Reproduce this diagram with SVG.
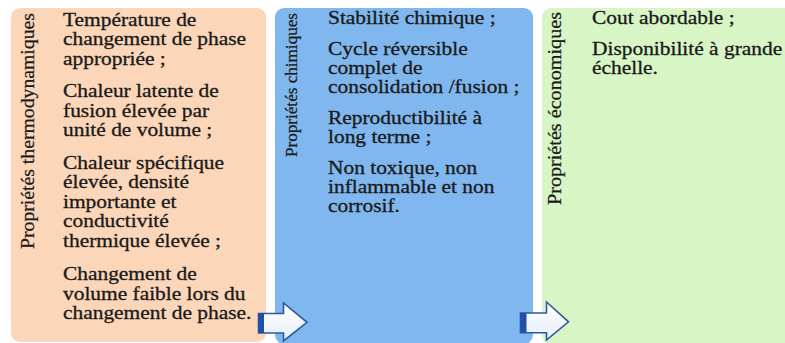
<svg xmlns="http://www.w3.org/2000/svg" width="785" height="343" viewBox="0 0 785 343">
<style>
  .txt { font-size: 18px; fill: #1a1a1a; stroke: #1a1a1a; stroke-width: 0.3; }
  .lab { fill: #1a1a1a; stroke: #1a1a1a; stroke-width: 0.25; }
  .arrow { fill: url(#agrad); stroke: #2d5a9e; stroke-width: 1.6; stroke-linejoin: miter; }
  .bar { fill: #1f4fa6; }
</style>
<defs>
  <linearGradient id="agrad" x1="0" y1="0" x2="0" y2="1">
    <stop offset="0" stop-color="#ffffff"/>
    <stop offset="1" stop-color="#e6eef8"/>
  </linearGradient>
</defs>
<rect x="0" y="0" width="785" height="343" fill="#ffffff"/>

<g font-family="Liberation Serif, DejaVu Serif, serif">
<g id="thermo">
  <rect x="11" y="8" width="255" height="334" rx="9" fill="#fbd6b9"/>
  <text class="lab" font-size="19" transform="translate(34 249) rotate(-90)" textLength="236" lengthAdjust="spacingAndGlyphs">Propriétés thermodynamiques</text>
  <g transform="translate(63 0) scale(1.19 1)">
    <text class="txt" x="0" y="25.7">Température de</text>
    <text class="txt" x="0" y="45.2">changement de phase</text>
    <text class="txt" x="0" y="64.7">appropriée ;</text>
    <text class="txt" x="0" y="97.2">Chaleur latente de</text>
    <text class="txt" x="0" y="116.7">fusion élevée par</text>
    <text class="txt" x="0" y="136.2">unité de volume ;</text>
    <text class="txt" x="0" y="168.7">Chaleur spécifique</text>
    <text class="txt" x="0" y="188.2">élevée, densité</text>
    <text class="txt" x="0" y="207.7">importante et</text>
    <text class="txt" x="0" y="227.2">conductivité</text>
    <text class="txt" x="0" y="246.7">thermique élevée ;</text>
    <text class="txt" x="0" y="280.2">Changement de</text>
    <text class="txt" x="0" y="299.7">volume faible lors du</text>
    <text class="txt" x="0" y="319.2">changement de phase.</text>
  </g>
</g>

<g id="chimiques">
  <rect x="275" y="8" width="258" height="336" rx="9" fill="#80b7ee"/>
  <text class="lab" font-size="17" transform="translate(297 157) rotate(-90)" textLength="144" lengthAdjust="spacingAndGlyphs">Propriétés chimiques</text>
  <g transform="translate(328 0) scale(1.19 1)">
    <text class="txt" x="0" y="24.5">Stabilité chimique ;</text>
    <text class="txt" x="0" y="55.5">Cycle réversible</text>
    <text class="txt" x="0" y="74.5">complet de</text>
    <text class="txt" x="0" y="93.5">consolidation /fusion ;</text>
    <text class="txt" x="0" y="124.5">Reproductibilité à</text>
    <text class="txt" x="0" y="143.5">long terme ;</text>
    <text class="txt" x="0" y="174.5">Non toxique, non</text>
    <text class="txt" x="0" y="193.5">inflammable et non</text>
    <text class="txt" x="0" y="212.5">corrosif.</text>
  </g>
</g>

<g id="economiques">
  <rect x="542" y="8" width="260" height="336" rx="9" fill="#d8f5c6"/>
  <text class="lab" font-size="19" transform="translate(561 205) rotate(-90)" textLength="193" lengthAdjust="spacingAndGlyphs">Propriétés économiques</text>
  <g transform="translate(592 0) scale(1.19 1)">
    <text class="txt" x="0" y="24.5">Cout abordable ;</text>
    <text class="txt" x="0" y="55.5">Disponibilité à grande</text>
    <text class="txt" x="0" y="74.5">échelle.</text>
  </g>
</g>
</g>

<g id="connectors">
  <g id="arrow1">
    <path class="arrow" d="M258.5 313.5 H283.5 V303 L307 322.3 L283.5 341 V333 H258.5 Z"/>
    <rect class="bar" x="258.5" y="313.5" width="5.5" height="19.5"/>
  </g>
  <g id="arrow2">
    <path class="arrow" d="M520.5 313 H546.5 V302 L568.5 321.8 L546.5 340 V332.7 H520.5 Z"/>
    <rect class="bar" x="520.5" y="313" width="6" height="19.7"/>
  </g>
</g>
</svg>
